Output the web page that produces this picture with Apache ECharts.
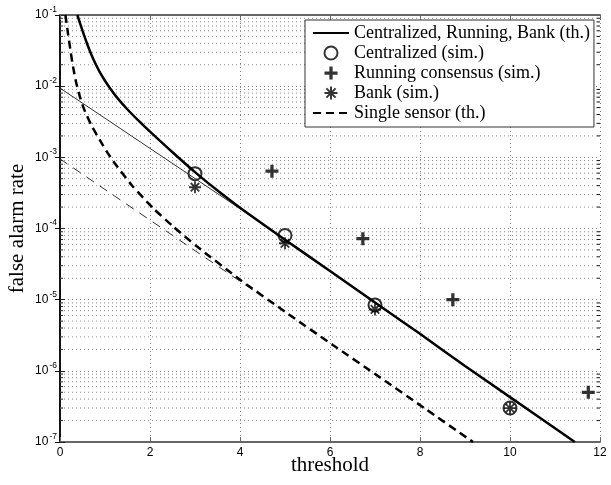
<!DOCTYPE html>
<html><head><meta charset="utf-8">
<script src="https://cdn.jsdelivr.net/npm/echarts@6/dist/echarts.min.js"></script>
<style>html,body{margin:0;padding:0;background:#fff}#c{width:611px;height:485px}</style>
</head><body><div id="c"></div>
<script>
// theoretical curves
const thX = [0.385, 0.5, 0.6, 0.7, 0.8, 0.9, 1.0, 1.1, 1.25, 1.5, 1.75, 2.0, 2.5, 3.0, 3.5, 4.0, 5.0, 6.0, 7.0, 8.0, 9.0, 10.0, 11.44];
const thY = [1.0e-1, 6.03e-2, 3.98e-2, 2.75e-2, 2.0e-2, 1.51e-2, 1.19e-2, 9.55e-3, 7.12e-3, 4.7e-3, 3.25e-3, 2.3e-3, 1.18e-3, 6.2e-4, 3.41e-4, 1.96e-4, 6.96e-5, 2.53e-5, 9.12e-6, 3.31e-6, 1.17e-6, 4.27e-7, 1.0e-7];
const singleX = [0.12, 0.18, 0.24, 0.29, 0.36, 0.44, 0.53, 0.7, 0.89, 1.04, 1.22, 1.59, 2.07, 2.52, 3.04, 4.0, 5.07, 6.07, 7.11, 8.11, 9.11, 9.18];
const singleY = [1e-1, 5.37e-2, 2.96e-2, 1.87e-2, 1.12e-2, 7.18e-3, 4.84e-3, 2.8e-3, 1.73e-3, 1.2e-3, 8.2e-4, 4.09e-4, 1.93e-4, 1.06e-4, 5.62e-5, 1.91e-5, 6.3e-6, 2.29e-6, 8.1e-7, 2.95e-7, 1.07e-7, 1.0e-7];
const asymX = [0, 4.8];
const asymY = [9.4e-3, 8.7e-5];
const asymSingleX = [0, 4.3];
const asymSingleY = [9.5e-4, 1.35e-5];
// simulation points
const simX = [3, 5, 7, 10];
const centralY = [5.9e-4, 8.0e-5, 8.4e-6, 3.0e-7];
const bankY = [3.8e-4, 6.2e-5, 7.3e-6, 3.0e-7];
const runX = [4.71, 6.73, 8.73, 11.74];
const runY = [6.4e-4, 7.2e-5, 1.0e-5, 5.0e-7];
// axes
const xTicks = [0, 2, 4, 6, 8, 10, 12];
const yExponents = [-7, -6, -5, -4, -3, -2, -1];

const names = ['Centralized, Running, Bank (th.)', 'Centralized (sim.)', 'Running consensus (sim.)', 'Bank (sim.)', 'Single sensor (th.)'];

function pairs(xs, ys) { return xs.map((x, i) => [x, ys[i]]); }

const yMin = Math.pow(10, yExponents[0]);
const yMax = Math.pow(10, yExponents[yExponents.length - 1]);
const xMin = xTicks[0], xMax = xTicks[xTicks.length - 1];

const minorVals = [];
for (let e = yExponents[0]; e < yExponents[yExponents.length - 1]; e++) {
  for (let m = 2; m <= 9; m++) minorVals.push(Number((m * Math.pow(10, e)).toPrecision(3)));
}

const PLUS = 'path://M3.75,0H6.25V3.75H10V6.25H6.25V10H3.75V6.25H0V3.75H3.75Z';
const STAR = 'path://M0,8.5H20V11.5H0Z M8.5,0H11.5V20H8.5Z M1.87,3.99L3.99,1.87L18.13,16.01L16.01,18.13Z M1.87,16.01L16.01,1.87L18.13,3.99L3.99,18.13Z';

const dotted = { type: [1, 3], color: '#888', width: 1 };
const noMarker = { color: 'rgba(0,0,0,0)', borderWidth: 0, opacity: 0 };

const chart = echarts.init(document.getElementById('c'));
chart.setOption({
  animation: false,
  backgroundColor: '#fff',
  grid: { left: 60, right: 11, top: 15, bottom: 43, outerBoundsMode: 'none' },
  legend: {
    orient: 'vertical', left: 305, top: 20, padding: [4, 4, 5, 7], itemGap: 2,
    itemWidth: 36, itemHeight: 13, itemTextGap: 4,
    backgroundColor: '#fff', borderColor: '#333', borderWidth: 1, borderRadius: 0,
    textStyle: { fontFamily: 'Liberation Serif', fontSize: 18, color: '#000', lineHeight: 18 },
    data: [
      { name: names[0], itemStyle: noMarker },
      { name: names[1], itemStyle: { color: 'rgba(0,0,0,0)', borderColor: '#000', borderWidth: 2 } },
      { name: names[2], itemStyle: { color: '#000', borderWidth: 0 } },
      { name: names[3], itemStyle: { color: '#000', borderWidth: 0 } },
      { name: names[4], itemStyle: noMarker }
    ]
  },
  xAxis: [{
    type: 'value', min: xMin, max: xMax, interval: 2, position: 'bottom',
    name: 'threshold', nameLocation: 'middle', nameGap: 13, nameMoveOverlap: false,
    nameTextStyle: { fontFamily: 'Liberation Serif', fontSize: 21, color: '#000' },
    axisLine: { show: true, onZero: false, lineStyle: { color: '#666', width: 2 } },
    axisTick: { show: true, inside: true, length: 5, lineStyle: { color: '#666' } },
    axisLabel: { margin: 5, fontFamily: 'Liberation Sans', fontSize: 12, color: '#000' },
    splitLine: { show: true, lineStyle: dotted }
  }, {
    type: 'value', min: xMin, max: xMax, interval: 2, position: 'top',
    axisLine: { show: true, onZero: false, lineStyle: { color: '#666', width: 2 } },
    axisTick: { show: true, inside: true, length: 5, lineStyle: { color: '#666' } },
    axisLabel: { show: false }, splitLine: { show: false }
  }],
  yAxis: [{
    type: 'log', logBase: 10, min: yMin, max: yMax, splitNumber: 6, position: 'left',
    name: 'false alarm rate', nameLocation: 'middle', nameGap: 32, nameMoveOverlap: false,
    nameTextStyle: { fontFamily: 'Liberation Serif', fontSize: 21, color: '#000' },
    axisLine: { show: true, lineStyle: { color: '#222', width: 1.5 } },
    axisTick: { show: true, inside: true, length: 5, lineStyle: { color: '#222' } },
    axisLabel: {
      margin: 3, color: '#000',
      formatter: v => '{b|10}{s|' + Math.round(Math.log10(v)) + '}',
      rich: {
        b: { fontFamily: 'Liberation Sans', fontSize: 12, lineHeight: 20, verticalAlign: 'middle', color: '#000' },
        s: { fontFamily: 'Liberation Sans', fontSize: 8.5, lineHeight: 9, verticalAlign: 'top', color: '#000', padding: [0, 0, 0, 1] }
      }
    },
    splitLine: { show: true, lineStyle: dotted }
  }, {
    type: 'log', logBase: 10, min: yMin, max: yMax, splitNumber: 6, position: 'right',
    axisLine: { show: true, lineStyle: { color: '#111', width: 2 } },
    axisTick: { show: true, inside: true, length: 5, lineStyle: { color: '#111' } },
    axisLabel: { show: false }, splitLine: { show: false }
  }],
  series: [
    {
      name: 'minor grid', type: 'custom', silent: true, z: 1, clip: false,
      data: minorVals.map(v => [xMin, v]),
      renderItem: function (params, api) {
        const v = api.value(1);
        const p0 = api.coord([xMin, v]);
        const p1 = api.coord([xMax, v]);
        return {
          type: 'group', children: [
            { type: 'line', shape: { x1: p0[0], y1: p0[1], x2: p1[0], y2: p1[1] }, style: { stroke: '#888', lineWidth: 1, lineDash: [1, 3] } },
            { type: 'line', shape: { x1: p0[0], y1: p0[1], x2: p0[0] + 3, y2: p0[1] }, style: { stroke: '#222', lineWidth: 1 } },
            { type: 'line', shape: { x1: p1[0] - 3, y1: p1[1], x2: p1[0], y2: p1[1] }, style: { stroke: '#111', lineWidth: 1 } }
          ]
        };
      }
    },
    {
      name: 'asymptote', type: 'line', data: pairs(asymX, asymY), symbol: 'none', silent: true,
      lineStyle: { color: '#333', width: 1 }
    },
    {
      name: 'asymptote single', type: 'line', data: pairs(asymSingleX, asymSingleY), symbol: 'none', silent: true,
      lineStyle: { color: '#333', width: 1, type: [9, 7] }
    },
    {
      name: names[0], type: 'line', data: pairs(thX, thY), symbol: 'none', smooth: 0.3,
      lineStyle: { color: '#000', width: 2.5 }, itemStyle: { color: '#000' }
    },
    {
      name: names[4], type: 'line', data: pairs(singleX, singleY), symbol: 'none', smooth: 0.2,
      lineStyle: { color: '#000', width: 2.5, type: [8, 5] }, itemStyle: { color: '#000' }
    },
    {
      name: names[1], type: 'scatter', data: pairs(simX, centralY), symbol: 'circle', symbolSize: 13,
      itemStyle: { color: 'rgba(0,0,0,0)', borderColor: '#000', borderWidth: 2 }
    },
    {
      name: names[2], type: 'scatter', data: pairs(runX, runY), symbol: PLUS, symbolSize: 13,
      itemStyle: { color: '#000' }
    },
    {
      name: names[3], type: 'scatter', data: pairs(simX, bankY), symbol: STAR, symbolSize: 12,
      itemStyle: { color: '#000' }
    }
  ]
});
</script>
</body></html>
